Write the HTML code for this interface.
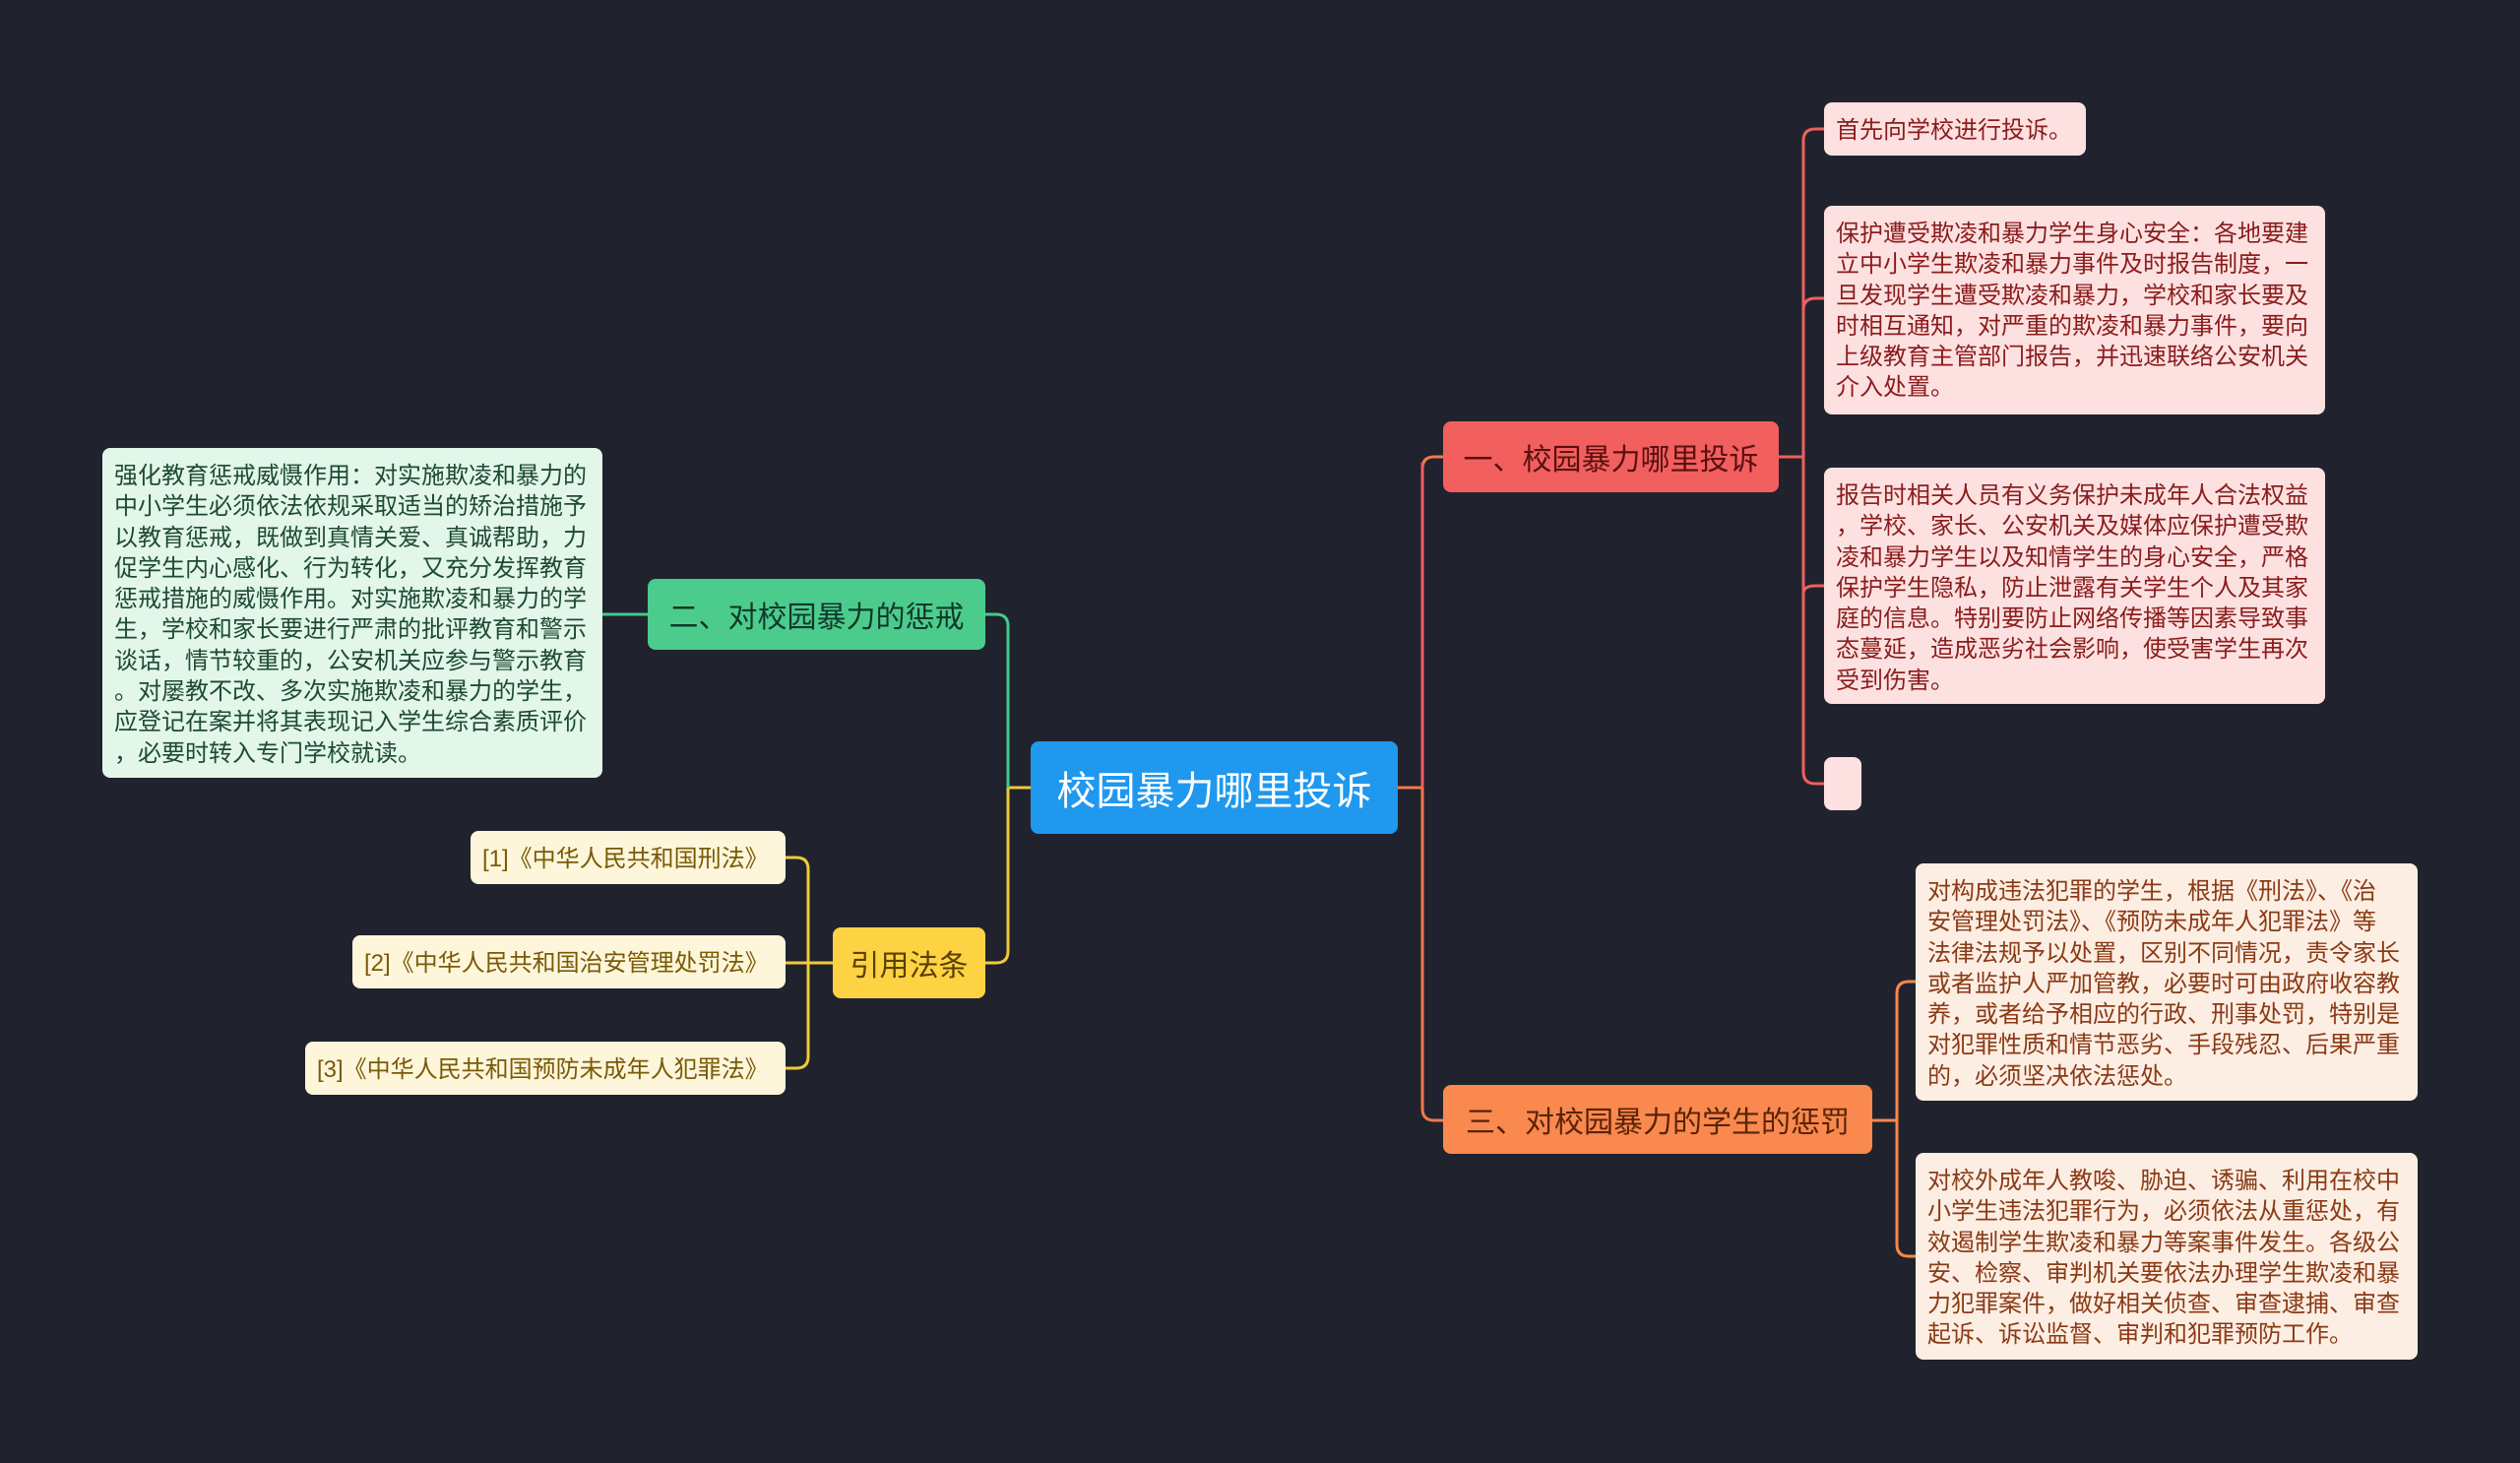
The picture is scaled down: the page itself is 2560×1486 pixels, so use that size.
<!DOCTYPE html>
<html><head><meta charset="utf-8"><style>
body{margin:0;width:2560px;height:1486px;background:#20232e;position:relative;overflow:hidden;font-family:"Liberation Sans","Noto Sans CJK SC",sans-serif;}
.n{position:absolute;box-sizing:border-box;border-radius:8px;white-space:nowrap;}
.m{display:flex;align-items:center;justify-content:center;font-size:30px;}
.l{font-size:24px;line-height:31.3px;padding:13px 12px 10px 12px;}
.r{background:#fde1e1;color:#8b1c1c;}
.o{background:#fdeee3;color:#8a3a16;}
.g{background:#e2f6ea;color:#1e4a33;}
.y{background:#fdf6db;color:#7a5a06;}
</style></head><body>
<svg width="2560" height="1486" style="position:absolute;left:0;top:0" fill="none" stroke-width="3">
<path d="M1420 800 H1445" stroke="#f07a4a"/>
<path d="M1466 464 H1457 Q1445 464 1445 476 V1126 Q1445 1138 1457 1138 H1466" stroke="#f07a4a"/>
<path d="M1445 470 V800" stroke="#ef5f5f"/>
<path d="M1807 464 H1832" stroke="#ef5f5f"/>
<path d="M1853 131 H1844 Q1832 131 1832 143 V784 Q1832 796 1844 796 H1853" stroke="#ef5f5f"/>
<path d="M1832 315 Q1832 303 1844 303 H1853 M1832 603 Q1832 595 1844 595 H1853" stroke="#ef5f5f"/>
<path d="M1902 1138 H1927" stroke="#f9874c"/>
<path d="M1946 997 H1939 Q1927 997 1927 1009 V1264 Q1927 1276 1939 1276 H1946" stroke="#f9874c"/>
<path d="M1047 800 H1024" stroke="#f0c93a"/>
<path d="M1001 624 H1012 Q1024 624 1024 636 V800" stroke="#46c98a"/>
<path d="M1024 800 V966 Q1024 978 1012 978 H1001" stroke="#f0c93a"/>
<path d="M658 624 H612" stroke="#46c98a"/>
<path d="M846 978 H798" stroke="#f0c93a"/>
<path d="M798 871 H809 Q821 871 821 883 V1073 Q821 1085 809 1085 H798" stroke="#f0c93a"/>
</svg>
<div class="n m" style="left:1047px;top:753px;width:373px;height:94px;background:#1f98ee;color:#fff;font-size:40px;">校园暴力哪里投诉</div>
<div class="n m" style="left:1466px;top:428px;width:341px;height:72px;background:#f25f5f;color:#5a0f0f;">一、校园暴力哪里投诉</div>
<div class="n m" style="left:1466px;top:1102px;width:436px;height:70px;background:#f9894e;color:#5a2208;">三、对校园暴力的学生的惩罚</div>
<div class="n m" style="left:658px;top:588px;width:343px;height:72px;background:#4ccc8c;color:#10382a;">二、对校园暴力的惩戒</div>
<div class="n m" style="left:846px;top:942px;width:155px;height:72px;background:#fdd344;color:#5a4000;">引用法条</div>
<div class="n l r" style="left:1853px;top:104px;width:266px;height:54px;padding-top:13px;">首先向学校进行投诉。</div>
<div class="n l r" style="left:1853px;top:209px;width:509px;height:212px;">保护遭受欺凌和暴力学生身心安全：各地要建<br>立中小学生欺凌和暴力事件及时报告制度，一<br>旦发现学生遭受欺凌和暴力，学校和家长要及<br>时相互通知，对严重的欺凌和暴力事件，要向<br>上级教育主管部门报告，并迅速联络公安机关<br>介入处置。</div>
<div class="n l r" style="left:1853px;top:475px;width:509px;height:240px;">报告时相关人员有义务保护未成年人合法权益<br>，学校、家长、公安机关及媒体应保护遭受欺<br>凌和暴力学生以及知情学生的身心安全，严格<br>保护学生隐私，防止泄露有关学生个人及其家<br>庭的信息。特别要防止网络传播等因素导致事<br>态蔓延，造成恶劣社会影响，使受害学生再次<br>受到伤害。</div>
<div class="n r" style="left:1853px;top:769px;width:38px;height:54px;"></div>
<div class="n l o" style="left:1946px;top:877px;width:510px;height:241px;">对构成违法犯罪的学生，根据《刑法》、《治<br>安管理处罚法》、《预防未成年人犯罪法》等<br>法律法规予以处置，区别不同情况，责令家长<br>或者监护人严加管教，必要时可由政府收容教<br>养，或者给予相应的行政、刑事处罚，特别是<br>对犯罪性质和情节恶劣、手段残忍、后果严重<br>的，必须坚决依法惩处。</div>
<div class="n l o" style="left:1946px;top:1171px;width:510px;height:210px;">对校外成年人教唆、胁迫、诱骗、利用在校中<br>小学生违法犯罪行为，必须依法从重惩处，有<br>效遏制学生欺凌和暴力等案事件发生。各级公<br>安、检察、审判机关要依法办理学生欺凌和暴<br>力犯罪案件，做好相关侦查、审查逮捕、审查<br>起诉、诉讼监督、审判和犯罪预防工作。</div>
<div class="n l g" style="left:104px;top:455px;width:508px;height:335px;">强化教育惩戒威慑作用：对实施欺凌和暴力的<br>中小学生必须依法依规采取适当的矫治措施予<br>以教育惩戒，既做到真情关爱、真诚帮助，力<br>促学生内心感化、行为转化，又充分发挥教育<br>惩戒措施的威慑作用。对实施欺凌和暴力的学<br>生，学校和家长要进行严肃的批评教育和警示<br>谈话，情节较重的，公安机关应参与警示教育<br>。对屡教不改、多次实施欺凌和暴力的学生，<br>应登记在案并将其表现记入学生综合素质评价<br>，必要时转入专门学校就读。</div>
<div class="n l y" style="left:478px;top:844px;width:320px;height:54px;padding-top:13px;">[1]《中华人民共和国刑法》</div>
<div class="n l y" style="left:358px;top:950px;width:440px;height:54px;padding-top:13px;">[2]《中华人民共和国治安管理处罚法》</div>
<div class="n l y" style="left:310px;top:1058px;width:488px;height:54px;padding-top:13px;">[3]《中华人民共和国预防未成年人犯罪法》</div>
</body></html>
